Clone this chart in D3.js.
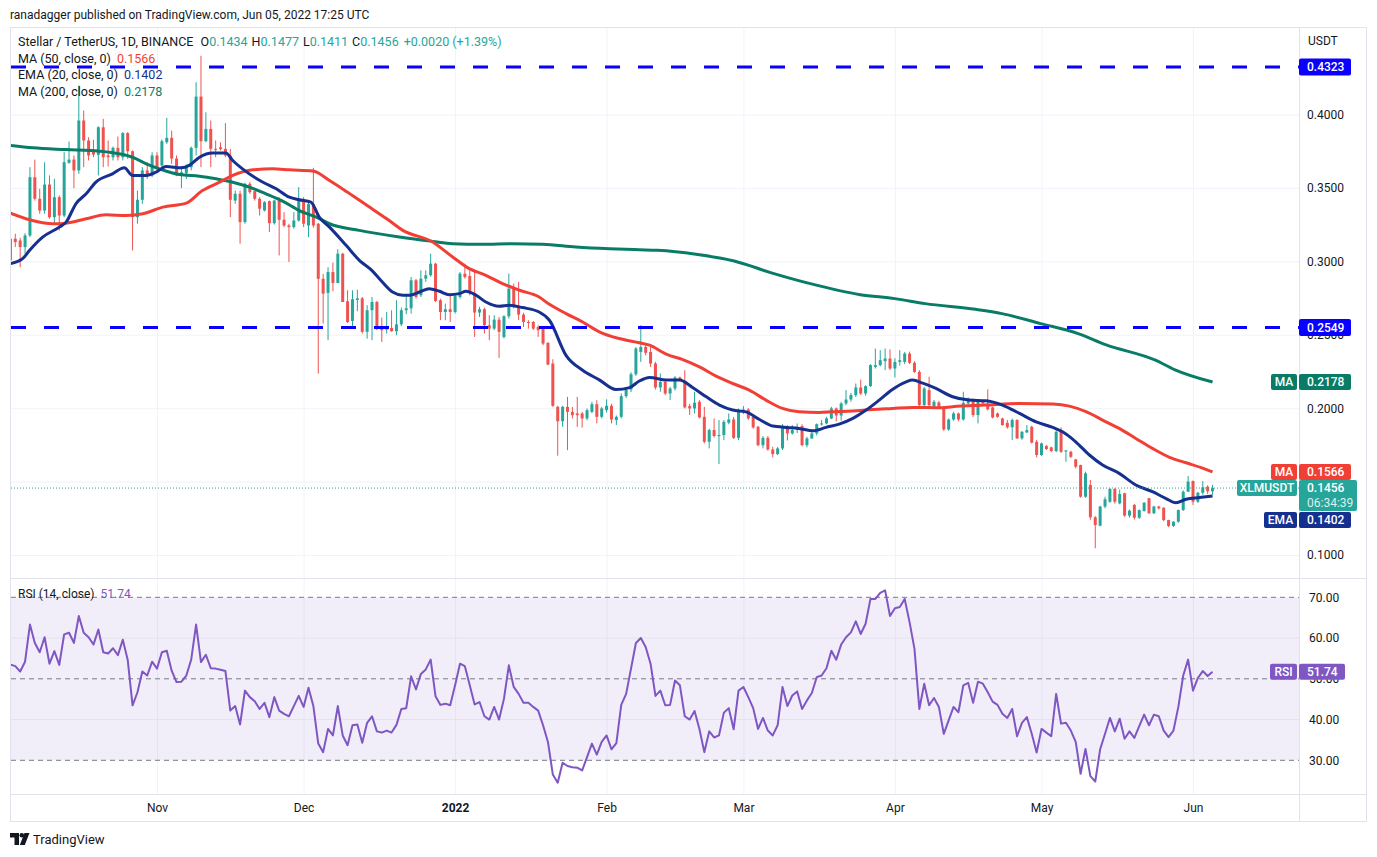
<!DOCTYPE html>
<html>
<head>
<meta charset="utf-8">
<script src="https://cdn.jsdelivr.net/npm/d3@7"></script>
<style>
  body { margin: 0; background: #fff; }
  svg { display: block; font-family: Roboto, "Trebuchet MS", sans-serif; }
</style>
</head>
<body>
<svg id="chart" width="1377" height="857"></svg>
<script>
// ---- data ----
const firstDay = Date.UTC(2021, 9, 2); // candle 0 = Oct 2, 2021

// [open, high, low, close] per day
const ohlc = [
  [0.3006,0.3256,0.2980,0.3154],[0.3154,0.3188,0.3097,0.3131],[0.3142,0.3160,0.2960,0.3097],[0.3097,0.3192,0.3050,0.3176],[0.3176,0.3641,0.3165,0.3573],
  [0.3573,0.3693,0.3414,0.3426],[0.3426,0.3494,0.3324,0.3346],[0.3346,0.3675,0.3324,0.3523],[0.3523,0.3585,0.3290,0.3301],[0.3301,0.3562,0.3256,0.3437],
  [0.3437,0.3449,0.3210,0.3312],[0.3312,0.3743,0.3301,0.3675],[0.3671,0.3816,0.3664,0.3693],[0.3693,0.3721,0.3498,0.3619],[0.3619,0.4197,0.3596,0.3959],
  [0.3959,0.4027,0.3641,0.3823],[0.3823,0.3845,0.3687,0.3721],[0.3755,0.3827,0.3710,0.3727],[0.3725,0.3920,0.3585,0.3913],[0.3913,0.3970,0.3641,0.3709],
  [0.3721,0.3823,0.3646,0.3709],[0.3709,0.3782,0.3687,0.3773],[0.3773,0.3850,0.3687,0.3709],[0.3709,0.3880,0.3687,0.3873],[0.3873,0.3880,0.3698,0.3750],
  [0.3750,0.3755,0.3074,0.3301],[0.3301,0.3482,0.3256,0.3419],[0.3419,0.3641,0.3392,0.3619],[0.3619,0.3675,0.3562,0.3585],[0.3585,0.3743,0.3573,0.3721],
  [0.3721,0.3743,0.3619,0.3641],[0.3653,0.3830,0.3641,0.3818],[0.3811,0.3977,0.3800,0.3841],[0.3841,0.3890,0.3664,0.3700],[0.3700,0.3721,0.3580,0.3600],
  [0.3590,0.3641,0.3498,0.3607],[0.3600,0.3660,0.3560,0.3641],[0.3641,0.3782,0.3619,0.3773],[0.3773,0.4220,0.3721,0.4122],[0.4122,0.4400,0.3641,0.3818],
  [0.3818,0.4015,0.3811,0.3902],[0.3902,0.3959,0.3641,0.3766],[0.3766,0.3823,0.3709,0.3760],[0.3777,0.3811,0.3755,0.3764],[0.3766,0.3941,0.3709,0.3721],
  [0.3721,0.3766,0.3301,0.3419],[0.3414,0.3482,0.3392,0.3460],[0.3460,0.3482,0.3120,0.3267],[0.3267,0.3535,0.3256,0.3528],[0.3528,0.3540,0.3460,0.3471],
  [0.3478,0.3480,0.3414,0.3426],[0.3426,0.3437,0.3312,0.3358],[0.3346,0.3410,0.3340,0.3403],[0.3410,0.3414,0.3200,0.3260],[0.3260,0.3420,0.3250,0.3414],
  [0.3414,0.3437,0.3040,0.3283],[0.3283,0.3335,0.3233,0.3244],[0.3244,0.3256,0.2995,0.3233],[0.3233,0.3335,0.3222,0.3278],[0.3278,0.3505,0.3270,0.3419],
  [0.3419,0.3437,0.3233,0.3256],[0.3244,0.3414,0.3165,0.3390],[0.3390,0.3637,0.3230,0.3244],[0.3256,0.3262,0.2235,0.2881],[0.2881,0.2915,0.2576,0.2780],
  [0.2785,0.2960,0.2463,0.2927],[0.2927,0.2991,0.2796,0.2853],[0.2853,0.3082,0.2850,0.3052],[0.3052,0.3058,0.2723,0.2723],[0.2728,0.2803,0.2580,0.2587],
  [0.2594,0.2803,0.2553,0.2742],[0.2737,0.2807,0.2660,0.2748],[0.2748,0.2757,0.2508,0.2520],[0.2520,0.2701,0.2474,0.2667],[0.2667,0.2757,0.2463,0.2723],
  [0.2723,0.2730,0.2531,0.2546],[0.2553,0.2617,0.2451,0.2531],[0.2535,0.2655,0.2508,0.2546],[0.2546,0.2667,0.2520,0.2524],[0.2524,0.2735,0.2497,0.2571],
  [0.2571,0.2685,0.2558,0.2667],[0.2667,0.2769,0.2640,0.2680],[0.2680,0.2893,0.2644,0.2871],[0.2871,0.2880,0.2746,0.2757],[0.2769,0.2939,0.2757,0.2882],
  [0.2882,0.2939,0.2860,0.2905],[0.2905,0.3052,0.2895,0.2984],[0.2984,0.2990,0.2723,0.2730],[0.2735,0.2746,0.2599,0.2655],[0.2655,0.2712,0.2599,0.2674],
  [0.2674,0.2764,0.2587,0.2655],[0.2655,0.2780,0.2644,0.2764],[0.2757,0.2927,0.2746,0.2916],[0.2916,0.2984,0.2882,0.2893],[0.2900,0.2939,0.2769,0.2780],
  [0.2780,0.2939,0.2485,0.2651],[0.2651,0.2690,0.2621,0.2674],[0.2674,0.2685,0.2508,0.2565],[0.2565,0.2633,0.2463,0.2542],[0.2542,0.2633,0.2531,0.2603],
  [0.2603,0.2621,0.2342,0.2520],[0.2485,0.2633,0.2474,0.2626],[0.2626,0.2916,0.2610,0.2814],[0.2814,0.2848,0.2680,0.2689],[0.2689,0.2860,0.2599,0.2637],
  [0.2637,0.2650,0.2553,0.2587],[0.2587,0.2599,0.2542,0.2583],[0.2587,0.2594,0.2531,0.2542],[0.2553,0.2565,0.2485,0.2531],[0.2542,0.2553,0.2429,0.2440],
  [0.2444,0.2451,0.2292,0.2297],[0.2304,0.2333,0.2009,0.2016],[0.2009,0.2016,0.1676,0.1911],[0.1911,0.2016,0.1873,0.2009],[0.2009,0.2077,0.1714,0.1975],
  [0.1975,0.2009,0.1930,0.1952],[0.1964,0.2077,0.1873,0.1952],[0.1964,0.1975,0.1868,0.1930],[0.1930,0.1998,0.1918,0.1986],[0.1975,0.2043,0.1966,0.2027],
  [0.2027,0.2054,0.1896,0.1941],[0.1941,0.2009,0.1930,0.1998],[0.1987,0.2060,0.1970,0.2016],[0.2016,0.2030,0.1896,0.1923],[0.1919,0.1950,0.1885,0.1941],
  [0.1941,0.2100,0.1930,0.2082],[0.2082,0.2140,0.2070,0.2127],[0.2127,0.2245,0.2110,0.2231],[0.2231,0.2417,0.2220,0.2406],[0.2383,0.2565,0.2315,0.2417],
  [0.2417,0.2440,0.2360,0.2377],[0.2383,0.2417,0.2281,0.2304],[0.2304,0.2315,0.2127,0.2141],[0.2141,0.2236,0.2111,0.2179],[0.2179,0.2190,0.2089,0.2100],
  [0.2100,0.2145,0.2055,0.2134],[0.2134,0.2218,0.2120,0.2209],[0.2209,0.2215,0.2185,0.2195],[0.2186,0.2259,0.1998,0.2005],[0.2014,0.2030,0.1953,0.1998],
  [0.1998,0.2111,0.1964,0.2037],[0.2043,0.2055,0.1930,0.1937],[0.1941,0.2009,0.1760,0.1771],[0.1771,0.1860,0.1726,0.1851],[0.1851,0.1930,0.1800,0.1810],
  [0.1810,0.1919,0.1619,0.1817],[0.1817,0.1919,0.1782,0.1907],[0.1901,0.1964,0.1890,0.1923],[0.1923,0.1940,0.1790,0.1798],[0.1798,0.1998,0.1782,0.1987],
  [0.1975,0.2014,0.1960,0.1991],[0.1991,0.2000,0.1920,0.1930],[0.1941,0.1950,0.1860,0.1869],[0.1873,0.1880,0.1740,0.1748],[0.1748,0.1810,0.1726,0.1798],
  [0.1798,0.1810,0.1710,0.1719],[0.1719,0.1737,0.1665,0.1687],[0.1687,0.1735,0.1680,0.1726],[0.1726,0.1891,0.1715,0.1878],[0.1878,0.1885,0.1780,0.1828],
  [0.1828,0.1885,0.1820,0.1851],[0.1851,0.1896,0.1830,0.1870],[0.1878,0.1890,0.1740,0.1748],[0.1748,0.1805,0.1733,0.1794],[0.1794,0.1840,0.1790,0.1828],
  [0.1828,0.1896,0.1815,0.1891],[0.1891,0.1919,0.1880,0.1896],[0.1896,0.1941,0.1890,0.1930],[0.1930,0.2009,0.1925,0.1998],[0.1998,0.2005,0.1910,0.1950],
  [0.1950,0.2043,0.1915,0.2032],[0.2032,0.2123,0.2020,0.2059],[0.2059,0.2104,0.2045,0.2089],[0.2089,0.2168,0.2075,0.2141],[0.2141,0.2195,0.2090,0.2100],
  [0.2100,0.2155,0.2085,0.2150],[0.2150,0.2300,0.2145,0.2293],[0.2281,0.2406,0.2270,0.2293],[0.2293,0.2395,0.2285,0.2327],[0.2320,0.2406,0.2259,0.2338],
  [0.2338,0.2400,0.2260,0.2270],[0.2270,0.2340,0.2209,0.2315],[0.2315,0.2395,0.2290,0.2327],[0.2315,0.2383,0.2300,0.2372],[0.2372,0.2385,0.2300,0.2309],
  [0.2309,0.2320,0.2240,0.2247],[0.2247,0.2259,0.2005,0.2021],[0.2021,0.2145,0.2000,0.2134],[0.2123,0.2214,0.2000,0.2021],[0.2010,0.2055,0.1995,0.2044],
  [0.2039,0.2050,0.1995,0.2005],[0.2005,0.2015,0.1845,0.1855],[0.1855,0.1930,0.1845,0.1923],[0.1923,0.1975,0.1915,0.1964],[0.1964,0.1970,0.1910,0.1923],
  [0.1923,0.2112,0.1915,0.2037],[0.2032,0.2073,0.2025,0.2060],[0.2060,0.2065,0.1940,0.1953],[0.1953,0.2058,0.1896,0.2055],[0.2048,0.2058,0.2025,0.2032],
  [0.2032,0.2128,0.1985,0.1991],[0.2005,0.2010,0.1930,0.1937],[0.1964,0.1970,0.1935,0.1941],[0.1930,0.1935,0.1880,0.1885],[0.1900,0.1920,0.1860,0.1870],
  [0.1870,0.1930,0.1783,0.1919],[0.1919,0.1925,0.1790,0.1794],[0.1794,0.1845,0.1785,0.1839],[0.1835,0.1885,0.1830,0.1851],[0.1873,0.1880,0.1760,0.1765],
  [0.1771,0.1783,0.1665,0.1681],[0.1681,0.1765,0.1675,0.1760],[0.1742,0.1750,0.1715,0.1722],[0.1733,0.1738,0.1700,0.1708],[0.1708,0.1850,0.1700,0.1839],
  [0.1839,0.1869,0.1695,0.1703],[0.1705,0.1715,0.1635,0.1712],[0.1703,0.1710,0.1660,0.1669],[0.1651,0.1655,0.1590,0.1601],[0.1613,0.1615,0.1390,0.1397],
  [0.1397,0.1567,0.1390,0.1556],[0.1477,0.1511,0.1240,0.1257],[0.1257,0.1265,0.1046,0.1204],[0.1200,0.1335,0.1195,0.1330],[0.1330,0.1397,0.1318,0.1380],
  [0.1363,0.1455,0.1355,0.1450],[0.1450,0.1455,0.1350,0.1363],[0.1352,0.1445,0.1345,0.1415],[0.1420,0.1425,0.1260,0.1268],[0.1268,0.1310,0.1255,0.1302],
  [0.1341,0.1348,0.1240,0.1254],[0.1254,0.1310,0.1245,0.1306],[0.1300,0.1360,0.1295,0.1356],[0.1386,0.1390,0.1280,0.1284],[0.1284,0.1335,0.1280,0.1330],
  [0.1330,0.1335,0.1310,0.1318],[0.1322,0.1325,0.1230,0.1238],[0.1238,0.1240,0.1190,0.1198],[0.1198,0.1230,0.1190,0.1227],[0.1227,0.1310,0.1220,0.1306],
  [0.1306,0.1440,0.1300,0.1431],[0.1431,0.1538,0.1430,0.1500],[0.1504,0.1508,0.1341,0.1363],[0.1363,0.1430,0.1355,0.1424],[0.1424,0.1504,0.1410,0.1461],
  [0.1465,0.1475,0.1415,0.1434],[0.1434,0.1477,0.1411,0.1456]
];

// RSI(14) per day
const rsi = [
  53.5,53.1,51.8,54.2,63.3,58.8,56.5,60.2,53.7,56.8,
  53.4,60.9,61.3,58.8,65.4,61.3,60.2,58.4,62.1,56.5,
  56.2,57.5,55.8,59.6,54.7,43.5,46.7,51.8,50.8,54.2,
  52.5,56.5,56.9,52.0,49.2,49.3,50.8,54.7,63.3,54.1,
  55.9,52.6,52.5,52.2,51.9,42.2,43.3,38.8,47.1,45.5,
  44.5,42.6,44.1,40.6,45.5,42.2,41.4,40.8,43.3,45.8,
  43.1,47.8,43.3,34.1,32.0,37.7,36.1,43.3,36.1,33.7,
  38.6,38.8,34.3,39.2,40.8,37.1,36.8,37.3,36.8,38.7,
  42.6,42.8,50.6,47.4,51.2,52.3,54.7,45.7,43.6,43.9,
  43.5,48.4,53.7,53.1,48.4,43.7,44.3,40.8,40.0,43.1,
  40.0,45.1,53.3,48.0,46.3,44.1,44.1,43.1,42.2,38.6,
  34.5,26.5,24.5,29.4,28.6,28.3,28.2,27.5,30.8,34.1,
  31.4,34.5,36.1,32.7,34.2,43.6,46.3,52.5,58.8,60.0,
  57.8,53.7,45.8,47.1,43.5,43.6,49.6,48.4,40.8,40.0,
  42.1,37.7,32.0,37.1,35.6,36.1,41.7,42.8,37.6,47.1,
  48.0,45.5,42.8,37.7,40.4,37.3,36.1,38.6,48.0,43.3,
  45.9,46.9,42.6,44.7,46.5,50.4,50.8,52.6,56.9,54.7,
  58.4,60.2,61.4,64.1,61.0,63.5,69.6,69.6,71.1,71.7,
  65.4,67.3,67.6,69.6,63.9,57.4,42.6,48.8,43.5,45.3,
  43.1,36.5,39.8,43.1,41.8,48.4,49.0,44.1,49.3,48.8,
  46.7,44.4,43.6,41.4,40.4,42.6,35.9,39.2,40.6,36.5,
  31.9,37.7,36.8,35.9,46.3,39.0,39.2,37.3,34.5,26.7,
  32.8,26.1,24.8,32.7,36.5,40.4,37.1,40.2,35.3,37.1,
  35.5,38.4,41.2,38.6,41.2,40.8,37.3,35.7,37.3,43.1,
  50.8,54.7,47.1,50.2,51.9,50.7,51.74
];

// moving averages: [day index, value]
const ema20 = [
  [0,0.2984],[2.5,0.3018],[3.9,0.3074],[6.6,0.3165],[10,0.3233],[11.4,0.3267],[13.4,0.3392],[15.5,0.3460],[17.5,0.3540],
  [20.9,0.3596],[23.3,0.3637],[25,0.3585],[27.8,0.3585],[29.8,0.3607],[31.9,0.3646],[34.9,0.3637],[36.6,0.3653],[38.7,0.3709],
  [41.4,0.3737],[44.1,0.3737],[45.5,0.3687],[47.5,0.3630],[51.6,0.3540],[54.4,0.3494],[57.1,0.3437],[59.1,0.3419],[61.5,0.3403],
  [63.2,0.3301],[65.3,0.3233],[68.7,0.3109],[71.4,0.3007],[73.8,0.2943],[75.5,0.2882],[78.2,0.2791],[80.3,0.2769],[81.7,0.2769],
  [83.7,0.2791],[85.7,0.2814],[87.8,0.2796],[89.8,0.2773],[91.9,0.2780],[93.2,0.2796],[95.3,0.2769],[97.3,0.2723],[100,0.2694],
  [102.1,0.2701],[104.8,0.2685],[108.2,0.2655],[110.3,0.2599],[113.7,0.2360],[117.1,0.2258],[120.5,0.2193],[123.9,0.2127],
  [126.7,0.2140],[128.7,0.2185],[130.8,0.2209],[134.2,0.2191],[136.9,0.2191],[139.6,0.2141],[142.4,0.2077],[145.1,0.2021],
  [147.8,0.1987],[150.5,0.1975],[153.3,0.1923],[156,0.1878],[158.7,0.1869],[161.4,0.1862],[164.2,0.1846],[166.9,0.1869],
  [169.6,0.1891],[172.4,0.1930],[175.1,0.1987],[177.8,0.2055],[180.5,0.2127],[183.3,0.2179],[184.6,0.2191],[186.7,0.2170],
  [189.4,0.2134],[192.8,0.2078],[196.2,0.2055],[199.6,0.2050],[203,0.2021],[206.5,0.1964],[209.9,0.1907],[213.3,0.1869],
  [215.3,0.1839],[218,0.1771],[220.8,0.1681],[223.5,0.1613],[226.9,0.1556],[230.3,0.1477],[233.7,0.1431],[236.4,0.1386],
  [238.5,0.1356],[240.6,0.1380],[243.3,0.1391],[246,0.1402]
];
const ma50 = [
  [0,0.3328],[3.9,0.3283],[8.7,0.3256],[11.4,0.3260],[15.5,0.3290],[19.6,0.3317],[23.7,0.3312],[27.1,0.3324],[31.2,0.3369],
  [36,0.3396],[39.3,0.3482],[42.8,0.3539],[45.5,0.3585],[49.6,0.3623],[53.7,0.3630],[57.1,0.3623],[61.9,0.3615],[65.3,0.3550],
  [69,0.3470],[73,0.3380],[77,0.3290],[80.3,0.3211],[86.4,0.3132],[90.5,0.3030],[93.9,0.2950],[97.3,0.2905],[100.7,0.2848],
  [104.2,0.2803],[108.2,0.2757],[110.3,0.2707],[113.7,0.2644],[117.1,0.2587],[120.5,0.2520],[124.6,0.2474],[128.7,0.2445],
  [130.8,0.2429],[134.2,0.2368],[137.6,0.2331],[141,0.2281],[144.4,0.2218],[147.8,0.2168],[151.2,0.2123],[154.6,0.2055],
  [158,0.1998],[161.4,0.1975],[165.5,0.1971],[168.2,0.1975],[172.4,0.1980],[176.4,0.1991],[180.5,0.1998],[184.6,0.2005],
  [190.1,0.2003],[192.8,0.2010],[199.6,0.2021],[206.5,0.2032],[213.3,0.2028],[216.7,0.2014],[220.1,0.1976],[223.5,0.1919],
  [226.9,0.1862],[230.3,0.1794],[233.7,0.1726],[237.2,0.1665],[240.6,0.1628],[244.1,0.1590],[246,0.1566]
];
const ma200 = [
  [0,0.3789],[4.6,0.3773],[11.4,0.3761],[18.2,0.3750],[22.3,0.3732],[25,0.3709],[27.8,0.3664],[30.5,0.3630],[34.6,0.3591],
  [38.7,0.3580],[42.1,0.3562],[45.5,0.3539],[48.9,0.3505],[52.3,0.3460],[55.7,0.3410],[59.1,0.3346],[62.6,0.3301],[65.3,0.3256],
  [71.4,0.3211],[79.6,0.3166],[86.4,0.3136],[90.5,0.3120],[96.6,0.3116],[102.8,0.3120],[108.9,0.3116],[115.7,0.3098],
  [122.6,0.3086],[128.7,0.3079],[132.4,0.3075],[140.3,0.3048],[148.1,0.3002],[155.9,0.2920],[163.7,0.2848],[173.9,0.2773],
  [181,0.2746],[187.2,0.2712],[197.5,0.2673],[202.9,0.2644],[210.8,0.2576],[218.5,0.2508],[224.1,0.2433],[234.3,0.2327],
  [238.2,0.2263],[246,0.2178]
];

const levelLines = [0.4323, 0.2549];
const lastPrice = 0.1456;
const priceTicks = [0.10, 0.15, 0.20, 0.25, 0.30, 0.35, 0.40];
const rsiTicks = [30, 40, 50, 60, 70];
const monthTicks = [
  [Date.UTC(2021,10,1), "Nov"], [Date.UTC(2021,11,1), "Dec"], [Date.UTC(2022,0,1), "2022"],
  [Date.UTC(2022,1,1), "Feb"], [Date.UTC(2022,2,1), "Mar"], [Date.UTC(2022,3,1), "Apr"],
  [Date.UTC(2022,4,1), "May"], [Date.UTC(2022,5,1), "Jun"]
];

// ---- layout ----
const L = 10, R = 1366, PX = 1299;          // outer frame and price-axis divider
const mainTop = 27, mainBot = 578, rsiBot = 794, frameBot = 821;
const up = "#26a69a", down = "#ef5350";
const cMA50 = "#f23f36", cEMA = "#16308f", cMA200 = "#097c68", cRSI = "#7e57c2";
const gridC = "#f0f3fa", lineC = "#e0e3eb", textC = "#131722";

const svg = d3.select("#chart");
const dayDate = k => new Date(firstDay + k * 864e5);

const x = d3.scaleUtc()
  .domain([Date.UTC(2021,10,1), Date.UTC(2022,5,1)])
  .range([157, 1193]);
const y = d3.scaleLinear().domain([0.1, 0.4]).range([555, 114.5]);
const yR = d3.scaleLinear().domain([30, 70]).range([760.3, 597.3]);

const defs = svg.append("defs");
defs.append("clipPath").attr("id", "clipMain")
  .append("rect").attr("x", L + 1).attr("y", mainTop + 1).attr("width", PX - L - 1).attr("height", mainBot - mainTop - 1);
defs.append("clipPath").attr("id", "clipRsi")
  .append("rect").attr("x", L + 1).attr("y", mainBot + 1).attr("width", PX - L - 1).attr("height", rsiBot - mainBot - 1);

// ---- grid ----
const grid = svg.append("g");
grid.append("g")
  .attr("transform", `translate(0,${rsiBot})`)
  .call(d3.axisBottom(x).tickValues(monthTicks.map(d => d[0])).tickSize(-(rsiBot - mainTop)).tickFormat(""))
  .call(g => g.select(".domain").remove())
  .call(g => g.selectAll("line").attr("stroke", gridC));
grid.append("g")
  .attr("transform", `translate(${PX},0)`)
  .call(d3.axisRight(y).tickValues(priceTicks).tickSize(-(PX - L)).tickFormat(""))
  .call(g => g.select(".domain").remove())
  .call(g => g.selectAll("line").attr("stroke", gridC));

// ---- main pane ----
const main = svg.append("g").attr("clip-path", "url(#clipMain)");

const candles = main.append("g").selectAll("g").data(ohlc).join("g")
  .attr("transform", (d, i) => `translate(${x(dayDate(i))},0)`);
candles.append("line")
  .attr("y1", d => y(d[1])).attr("y2", d => y(d[2]))
  .attr("stroke", d => d[3] >= d[0] ? up : down).attr("stroke-width", 1);
candles.append("rect")
  .attr("x", -1.5).attr("width", 3)
  .attr("y", d => y(Math.max(d[0], d[3])))
  .attr("height", d => Math.max(1, Math.abs(y(d[0]) - y(d[3]))))
  .attr("fill", d => d[3] >= d[0] ? up : down);

const maLine = d3.line().x(d => x(dayDate(d[0]))).y(d => y(d[1])).curve(d3.curveMonotoneX);
[[ma200, cMA200], [ma50, cMA50], [ema20, cEMA]].forEach(([pts, col]) => {
  main.append("path").attr("d", maLine(pts)).attr("fill", "none")
    .attr("stroke", col).attr("stroke-width", 3).attr("stroke-linejoin", "round");
});

main.selectAll(".level").data(levelLines).join("line")
  .attr("x1", L + 1).attr("x2", PX).attr("y1", d => y(d)).attr("y2", d => y(d))
  .attr("stroke", "#0a00ff").attr("stroke-width", 3).attr("stroke-dasharray", "15 18");

main.append("line")
  .attr("x1", L + 1).attr("x2", PX).attr("y1", y(lastPrice)).attr("y2", y(lastPrice))
  .attr("stroke", up).attr("stroke-width", 1).attr("stroke-dasharray", "1 2");

// ---- RSI pane ----
const rp = svg.append("g").attr("clip-path", "url(#clipRsi)");
rp.append("rect").attr("x", L + 1).attr("width", PX - L - 1)
  .attr("y", yR(70)).attr("height", yR(30) - yR(70))
  .attr("fill", cRSI).attr("fill-opacity", 0.1);
rp.selectAll(".rg").data([40, 60]).join("line")
  .attr("x1", L + 1).attr("x2", PX).attr("y1", d => yR(d)).attr("y2", d => yR(d))
  .attr("stroke", "#e4e0ee");
rp.selectAll(".rb").data([30, 50, 70]).join("line")
  .attr("x1", L + 1).attr("x2", PX).attr("y1", d => yR(d)).attr("y2", d => yR(d))
  .attr("stroke", "#787b86").attr("stroke-dasharray", "5 4");
rp.append("path")
  .attr("d", d3.line().x((d, i) => x(dayDate(i))).y(d => yR(d))(rsi))
  .attr("fill", "none").attr("stroke", cRSI).attr("stroke-width", 2).attr("stroke-linejoin", "round");

// ---- frame ----
const frame = svg.append("g").attr("stroke", lineC).attr("fill", "none");
frame.append("rect").attr("x", L + 0.5).attr("y", mainTop + 0.5).attr("width", R - L).attr("height", frameBot - mainTop);
frame.append("line").attr("x1", PX + 0.5).attr("x2", PX + 0.5).attr("y1", mainTop).attr("y2", frameBot);
frame.append("line").attr("x1", L).attr("x2", R).attr("y1", mainBot + 0.5).attr("y2", mainBot + 0.5);
frame.append("line").attr("x1", L).attr("x2", R).attr("y1", rsiBot + 0.5).attr("y2", rsiBot + 0.5);

// ---- axes ----
const priceAxis = svg.append("g")
  .attr("transform", `translate(${PX},0)`)
  .call(d3.axisRight(y).tickValues(priceTicks).tickSize(0).tickPadding(8).tickFormat(d3.format(".4f")))
  .call(g => g.select(".domain").remove());
priceAxis.selectAll("text").attr("fill", textC).attr("font-size", 12).attr("font-family", "Roboto");

const rsiAxis = svg.append("g")
  .attr("transform", `translate(${PX},0)`)
  .call(d3.axisRight(yR).tickValues(rsiTicks).tickSize(0).tickPadding(10).tickFormat(d3.format(".2f")))
  .call(g => g.select(".domain").remove());
rsiAxis.selectAll("text").attr("fill", textC).attr("font-size", 12).attr("font-family", "Roboto");

const timeAxis = svg.append("g")
  .attr("transform", `translate(0,${rsiBot})`)
  .call(d3.axisBottom(x).tickValues(monthTicks.map(d => d[0])).tickSize(0).tickPadding(9)
    .tickFormat((d, i) => monthTicks[i][1]))
  .call(g => g.select(".domain").remove());
timeAxis.selectAll("text").attr("fill", textC).attr("font-size", 12).attr("font-family", "Roboto")
  .attr("font-weight", (d, i) => monthTicks[i][1] === "2022" ? "bold" : null);

svg.append("text").attr("x", 1308).attr("y", 41).attr("dy", "0.35em")
  .attr("font-size", 12).attr("fill", textC).text("USDT");

// ---- price tags on the right axis ----
function tag(x0, x1, yc, h, fill, label, opts = {}) {
  const g = svg.append("g");
  g.append("rect").attr("x", x0).attr("y", yc - h / 2).attr("width", x1 - x0).attr("height", h)
    .attr("rx", 2).attr("fill", fill);
  g.append("text").attr("x", opts.center ? (x0 + x1) / 2 : x0 + 8).attr("y", yc).attr("dy", "0.35em")
    .attr("text-anchor", opts.center ? "middle" : "start")
    .attr("font-size", 12).attr("font-weight", 500).attr("fill", "#fff").text(label);
  return g;
}
levelLines.forEach(v => tag(PX, 1351, y(v), 17, "#0a00ff", v.toFixed(4)));
tag(1271, 1297, y(0.2178), 16, cMA200, "MA", { center: true });
tag(PX, 1351, y(0.2178), 16, cMA200, "0.2178");
tag(1271, 1297, y(0.1566), 16, cMA50, "MA", { center: true });
tag(PX, 1351, y(0.1566), 16, cMA50, "0.1566");
tag(1237, 1297, y(lastPrice), 16, up, "XLMUSDT", { center: true });
const lp = tag(PX, 1357, y(lastPrice) + 7.5, 31, up, "0.1456");
lp.select("text").attr("y", y(lastPrice));
lp.append("text").attr("x", PX + 8).attr("y", y(lastPrice) + 15).attr("dy", "0.35em")
  .attr("font-size", 12).attr("fill", "#fff").attr("fill-opacity", 0.85).text("06:34:39");
tag(1264, 1297, 520, 16, cEMA, "EMA", { center: true });
tag(PX, 1351, 520, 16, cEMA, "0.1402");
tag(1270, 1297, yR(51.74), 16, cRSI, "RSI", { center: true });
tag(PX, 1345, yR(51.74), 16, cRSI, "51.74");

// ---- legends ----
const hdr = svg.append("g").attr("font-size", 12.5).attr("fill", textC);
hdr.append("text").attr("x", 10).attr("y", 15).attr("dy", "0.35em").attr("font-size", 12)
  .text("ranadagger published on TradingView.com, Jun 05, 2022 17:25 UTC");

const l1 = hdr.append("text").attr("x", 18).attr("y", 41.5).attr("dy", "0.35em");
l1.append("tspan").text("Stellar / TetherUS, 1D, BINANCE ");
[["O", "0.1434"], ["H", "0.1477"], ["L", "0.1411"], ["C", "0.1456"]].forEach(([k, v]) => {
  l1.append("tspan").attr("dx", 4).text(k);
  l1.append("tspan").attr("fill", up).text(v);
});
l1.append("tspan").attr("dx", 5).attr("fill", up).text("+0.0020 (+1.39%)");

const indLegend = [
  ["MA (50, close, 0)", "0.1566", cMA50, 58.5],
  ["EMA (20, close, 0)", "0.1402", cEMA, 75],
  ["MA (200, close, 0)", "0.2178", cMA200, 91.5]
];
indLegend.forEach(([name, val, col, yy]) => {
  const t = hdr.append("text").attr("x", 18).attr("y", yy).attr("dy", "0.35em");
  t.append("tspan").text(name);
  t.append("tspan").attr("dx", 6).attr("fill", col).text(val);
});
const rl = hdr.append("text").attr("x", 18).attr("y", 594).attr("dy", "0.35em").attr("font-size", 12);
rl.append("tspan").text("RSI (14, close)");
rl.append("tspan").attr("dx", 6).attr("fill", cRSI).text("51.74");

// ---- TradingView mark ----
const logo = svg.append("g").attr("fill", textC);
logo.append("path").attr("d", "M10,833 H19 V845 H14.5 V837.5 H10 Z");
logo.append("circle").attr("cx", 21.8).attr("cy", 835.3).attr("r", 2.3);
logo.append("path").attr("d", "M24.5,833 H29.5 L24.8,845 H19.8 Z");
svg.append("text").attr("x", 33).attr("y", 839).attr("dy", "0.35em")
  .attr("font-size", 13).attr("fill", textC).text("TradingView");
</script>
</body>
</html>
